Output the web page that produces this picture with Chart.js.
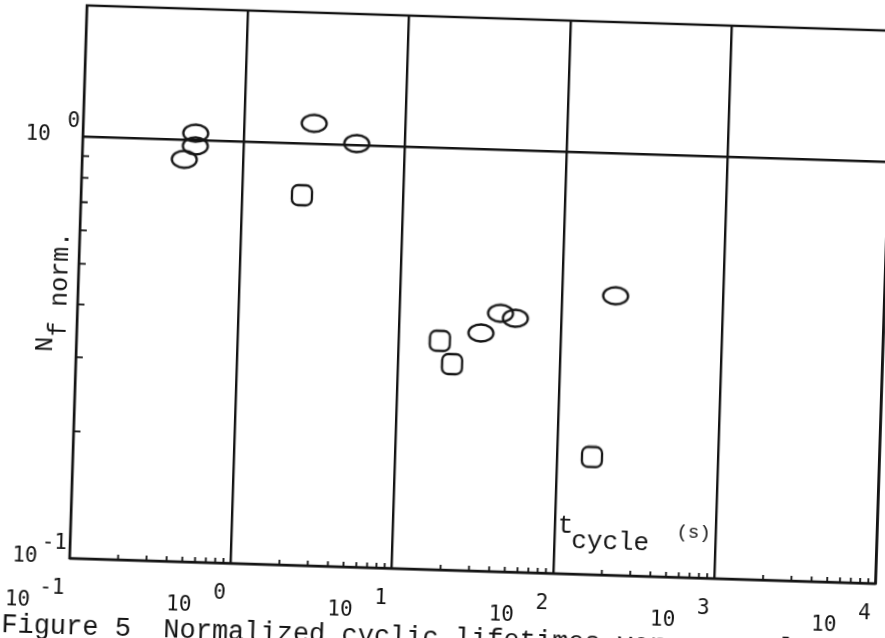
<!DOCTYPE html>
<html><head><meta charset="utf-8">
<script src="https://cdn.jsdelivr.net/npm/chart.js@4/dist/chart.umd.min.js"></script>
<style>
html,body{margin:0;padding:0;background:#fff;overflow:hidden;width:885px;height:638px;}
#wrap{position:absolute;left:0;top:0;width:900px;height:700px;transform-origin:482px 294px;transform:rotate(1.8deg);}
canvas{display:block;}
</style></head><body>
<div id="wrap"><canvas id="c" width="900" height="700" style="width:900px;height:700px"></canvas></div>
<script>
// ---- data ----
const ellipseX = [0.50, 0.50, 0.43, 2.7, 5.0, 32, 42, 52, 215];
const ellipseY = [1.04, 0.97, 0.90, 1.12, 1.01, 0.367, 0.41, 0.40, 0.46];
const squareX = [2.34, 17.9, 21.5, 165];
const squareY = [0.755, 0.349, 0.308, 0.190];
const xTickValues = [0.1, 1, 10, 100, 1000, 10000];
const xTickExponents = ['-1', '0', '1', '2', '3', '4'];
const yTickValues = [0.1, 1];
const yTickExponents = ['-1', '0'];
const yMax = 2.05;
const xTitleMain = 't';
const xTitleSub = 'cycle';
const xTitleUnit = '(s)';
const yTitleMain = 'N';
const yTitleSub = 'f norm.';
const caption = 'Figure 5  Normalized cyclic lifetimes versus cycle time';

const INK = '#141414';
const SERIF_MONO = '"Liberation Mono", "Courier New", monospace';
const PLOT_MONO = '"DejaVu Sans Mono", monospace';

function ellipseImg(){
  const c = document.createElement('canvas'); c.width = 30; c.height = 22;
  const g = c.getContext('2d'); g.strokeStyle = INK; g.lineWidth = 2.3;
  g.beginPath(); g.ellipse(15, 11, 12.5, 8.5, 0, 0, Math.PI*2); g.stroke();
  return c;
}
function squareImg(){
  const c = document.createElement('canvas'); c.width = 24; c.height = 24;
  const g = c.getContext('2d'); g.strokeStyle = INK; g.lineWidth = 2.3;
  const x0 = 2, y0 = 2, w = 20, h = 20, r = 6;
  g.beginPath();
  g.moveTo(x0 + r, y0);
  g.arcTo(x0 + w, y0, x0 + w, y0 + h, r);
  g.arcTo(x0 + w, y0 + h, x0, y0 + h, r);
  g.arcTo(x0, y0 + h, x0, y0, r);
  g.arcTo(x0, y0, x0 + w, y0, r);
  g.closePath(); g.stroke();
  return c;
}

const decorations = {
  id: 'decorations',
  afterDraw(chart){
    const ctx = chart.ctx, a = chart.chartArea;
    const xs = chart.scales.x, ys = chart.scales.y;
    ctx.save();
    ctx.strokeStyle = INK; ctx.fillStyle = INK; ctx.lineWidth = 2.4;
    ctx.strokeRect(a.left, a.top, a.right - a.left, a.bottom - a.top);
    // minor ticks (inward)
    ctx.lineWidth = 1.8;
    ctx.beginPath();
    for (let i = 0; i < xTickValues.length - 1; i++){
      for (let m = 2; m <= 9; m++){
        const px = xs.getPixelForValue(xTickValues[i]*m);
        ctx.moveTo(px, a.bottom); ctx.lineTo(px, a.bottom - 5);
      }
    }
    for (let i = 0; i < yTickValues.length - 1; i++){
      for (let m = 2; m <= 9; m++){
        const py = ys.getPixelForValue(yTickValues[i]*m);
        ctx.moveTo(a.left, py); ctx.lineTo(a.left + 7, py);
      }
    }
    ctx.stroke();
    // tick labels
    ctx.textAlign = 'right'; ctx.textBaseline = 'alphabetic';
    ctx.font = '21px ' + PLOT_MONO;
    xTickValues.forEach((v, i) => {
      const gx = xs.getPixelForValue(v);
      ctx.fillText('10', gx - 38, a.bottom + 49);
      ctx.fillText(xTickExponents[i], gx - 4, a.bottom + 36);
    });
    yTickValues.forEach((v, i) => {
      const gy = ys.getPixelForValue(v);
      ctx.fillText('10', a.left - 32, gy + 5);
      ctx.fillText(yTickExponents[i], a.left - 3, gy - 9);
    });
    // y title
    const cy = (a.top + a.bottom) / 2;
    ctx.font = '25px ' + SERIF_MONO;
    ctx.save(); ctx.translate(a.left - 24, cy + 63.5); ctx.rotate(-Math.PI/2);
    ctx.textAlign = 'center'; ctx.fillText(yTitleMain, 0, 0); ctx.restore();
    ctx.save(); ctx.translate(a.left - 11.5, cy + 55.5); ctx.rotate(-Math.PI/2);
    ctx.textAlign = 'left'; ctx.fillText(yTitleSub, 0, 0); ctx.restore();
    // x title
    const x100 = xs.getPixelForValue(100);
    ctx.textAlign = 'left';
    ctx.font = '26px ' + SERIF_MONO;
    ctx.fillText(xTitleMain, x100 + 3, a.bottom - 41);
    ctx.fillText(xTitleSub, x100 + 17, a.bottom - 26);
    ctx.font = '19px ' + SERIF_MONO;
    ctx.fillText(xTitleUnit, x100 + 122, a.bottom - 40);
    // caption
    ctx.font = '27px ' + SERIF_MONO;
    ctx.fillText(caption, 12, a.bottom + 76);
    ctx.restore();
  }
};

function build(){
  new Chart(document.getElementById('c'), {
    type: 'scatter',
    data: {
      datasets: [
        { data: ellipseX.map((x, i) => ({x, y: ellipseY[i]})), pointStyle: ellipseImg(), borderColor: INK },
        { data: squareX.map((x, i) => ({x, y: squareY[i]})), pointStyle: squareImg(), borderColor: INK }
      ]
    },
    options: {
      responsive: false, animation: false, devicePixelRatio: 1,
      layout: { padding: { left: 78, top: 18, right: 15.4, bottom: 129 } },
      plugins: { legend: { display: false }, tooltip: { enabled: false } },
      scales: {
        x: {
          type: 'logarithmic', min: xTickValues[0], max: xTickValues[xTickValues.length-1],
          afterBuildTicks: s => { s.ticks = xTickValues.map(v => ({value: v})); },
          afterFit: s => { s.height = 0; },
          ticks: { display: false },
          grid: { color: INK, lineWidth: 2.4, drawTicks: false },
          border: { display: false }
        },
        y: {
          type: 'logarithmic', min: yTickValues[0], max: yMax,
          afterBuildTicks: s => { s.ticks = yTickValues.map(v => ({value: v})); },
          afterFit: s => { s.width = 0; },
          ticks: { display: false },
          grid: { color: INK, lineWidth: 2.4, drawTicks: false },
          border: { display: false }
        }
      }
    },
    plugins: [decorations]
  });
}
Promise.all([
  document.fonts.load('27px "Liberation Mono"'),
  document.fonts.load('21px "DejaVu Sans Mono"')
]).catch(() => {}).then(build);
</script>
</body></html>
